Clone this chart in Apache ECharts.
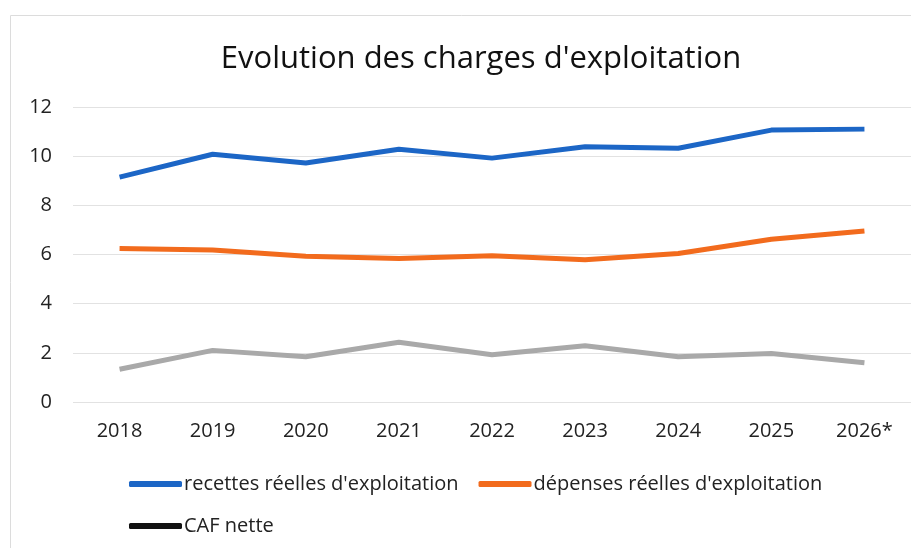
<!DOCTYPE html>
<html>
<head>
<meta charset="utf-8">
<script src="https://cdn.jsdelivr.net/npm/echarts@6/dist/echarts.min.js"></script>
<style>
  html, body { margin: 0; padding: 0; background: #fff; }
  #chart { width: 911px; height: 548px; }
</style>
</head>
<body>
<div id="chart"></div>
<script>
// années
var years = ["2018", "2019", "2020", "2021", "2022", "2023", "2024", "2025", "2026*"];
// valeurs (M€)
var recettes = [9.15, 10.08, 9.72, 10.28, 9.92, 10.38, 10.32, 11.06, 11.1];
var depenses = [6.24, 6.18, 5.93, 5.84, 5.95, 5.79, 6.04, 6.62, 6.96];
var cafNette = [1.33, 2.1, 1.84, 2.43, 1.92, 2.29, 1.84, 1.97, 1.6];

var FONT = "Open Sans";

var myChart = echarts.init(document.getElementById("chart"));
var option = {
  animation: false,
  textStyle: { fontFamily: FONT },
  title: {
    text: "Evolution des charges d'exploitation",
    left: 476,
    textAlign: "center",
    top: 39,
    textStyle: { fontFamily: FONT, fontSize: 31, fontWeight: "normal", color: "#111" }
  },
  graphic: [{
    type: "rect",
    shape: { x: 10.5, y: 15.5, width: 920, height: 560 },
    style: { fill: "none", stroke: "#dcdcdc", lineWidth: 1 },
    silent: true
  }],
  legend: [
    {
      left: 124,
      top: 469,
      itemWidth: 53,
      itemHeight: 6,
      itemGap: 20,
      icon: "roundRect",
      textStyle: { fontFamily: FONT, fontSize: 20, color: "#222", padding: [0, 0, 0, -3] },
      data: ["recettes réelles d'exploitation", "dépenses réelles d'exploitation"]
    },
    {
      left: 124,
      top: 511,
      itemWidth: 53,
      itemHeight: 6,
      icon: "roundRect",
      textStyle: { fontFamily: FONT, fontSize: 20, color: "#222", padding: [0, 0, 0, -3] },
      data: [{ name: "CAF nette", itemStyle: { color: "#111" } }]
    }
  ],
  grid: {
    left: 73,
    right: 0,
    top: 107,
    bottom: 146
  },
  xAxis: {
    type: "category",
    data: years,
    boundaryGap: true,
    axisLine: { show: false },
    axisTick: { show: false },
    axisLabel: { fontFamily: FONT, fontSize: 20, color: "#222", margin: 19 }
  },
  yAxis: {
    type: "value",
    min: 0,
    max: 12,
    interval: 2,
    axisLine: { show: false },
    axisTick: { show: false },
    splitLine: { lineStyle: { color: "#e2e2e2", width: 1 } },
    axisLabel: { fontFamily: FONT, fontSize: 20, color: "#222", margin: 21 }
  },
  series: [
    {
      name: "recettes réelles d'exploitation",
      type: "line",
      data: recettes,
      showSymbol: false,
      itemStyle: { color: "#1c66c6" },
      lineStyle: { color: "#1c66c6", width: 5 }
    },
    {
      name: "dépenses réelles d'exploitation",
      type: "line",
      data: depenses,
      showSymbol: false,
      itemStyle: { color: "#f26b1d" },
      lineStyle: { color: "#f26b1d", width: 5 }
    },
    {
      name: "CAF nette",
      type: "line",
      data: cafNette,
      showSymbol: false,
      itemStyle: { color: "#a9a9a9" },
      lineStyle: { color: "#a9a9a9", width: 5 }
    }
  ]
};
myChart.setOption(option);
</script>
</body>
</html>
